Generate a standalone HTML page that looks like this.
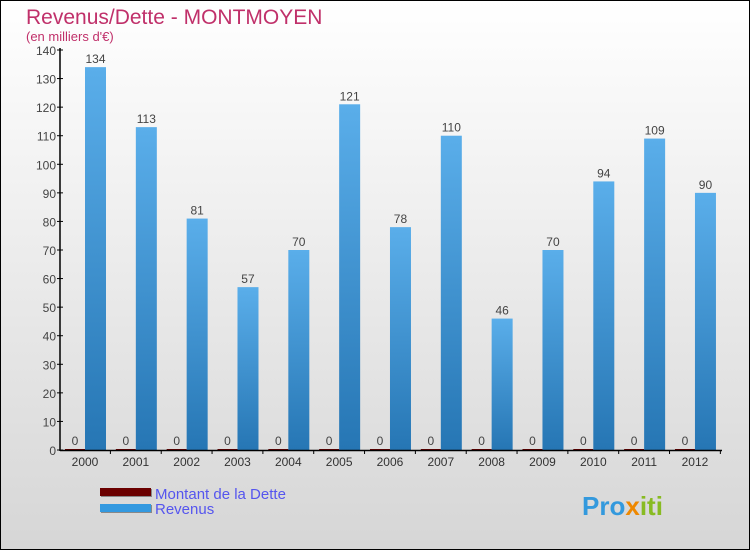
<!DOCTYPE html>
<html><head><meta charset="utf-8"><style>
body{margin:0}
#c{width:750px;height:550px;position:relative;background:linear-gradient(#ffffff,#d6d6d6);box-sizing:border-box;border:1px solid #000;font-family:"Liberation Sans",sans-serif;overflow:hidden}
</style></head><body>
<div id="c">
<svg id="s" width="750" height="550" style="position:absolute;left:-1px;top:-1px">
<defs>
<linearGradient id="gb" x1="0" y1="0" x2="0" y2="1"><stop offset="0" stop-color="#5aaeea"/><stop offset="1" stop-color="#2676b4"/></linearGradient>
</defs>
<text x="26" y="24" font-size="21" fill="#c0306a">Revenus/Dette - MONTMOYEN</text>
<text x="26" y="41" font-size="13" fill="#c0306a">(en milliers d'€)</text>
<g id="plot"></g>
<g>
<rect x="101" y="489" width="51" height="8" fill="#888"/><rect x="100" y="488" width="51" height="8" fill="#6b0000"/>
<text x="155" y="499" font-size="15" fill="#5555ee">Montant de la Dette</text>
<rect x="101" y="505" width="51" height="8" fill="#888"/><rect x="100" y="504" width="51" height="8" fill="#3399e0"/>
<text x="155" y="514" font-size="15" fill="#5555ee">Revenus</text>
</g>
<text x="582" y="515" font-size="26" font-weight="bold" fill="#3399dd">Pro<tspan fill="#ee8800">x</tspan><tspan fill="#88bb22">iti</tspan></text>
</svg>
</div>
<script>
const years=["2000","2001","2002","2003","2004","2005","2006","2007","2008","2009","2010","2011","2012"];
const revenus=[134,113,81,57,70,121,78,110,46,70,94,109,90];
const dette=[0,0,0,0,0,0,0,0,0,0,0,0,0];
const yTicks=[0,10,20,30,40,50,60,70,80,90,100,110,120,130,140];
const NS="http://www.w3.org/2000/svg";
const g=document.getElementById('plot');
const y=v=>450-v*400/140;
const xc=i=>85+i*50.83;
function el(t,a,txt){const e=document.createElementNS(NS,t);for(const k in a)e.setAttribute(k,a[k]);if(txt!==undefined)e.textContent=txt;g.appendChild(e);return e;}
years.forEach((yr,i)=>{
 const c=xc(i);
 const d=el('rect',{x:c-20,y:y(dette[i])-1,width:20,height:450-y(dette[i])+1,fill:'#6b0000'});
 
 
 const dl=el('text',{x:c-10,y:y(dette[i])-5,'font-size':12,fill:'#444','text-anchor':'middle'},String(dette[i]));
 
 
 const b=el('rect',{x:c,y:y(revenus[i]),width:21,height:450-y(revenus[i]),fill:'url(#gb)'});
 
 
 const bl=el('text',{x:c+10.5,y:y(revenus[i])-4,'font-size':12,fill:'#444','text-anchor':'middle'},String(revenus[i]));
 
 
 const xl=el('text',{x:c,y:466,'font-size':12,fill:'#333','text-anchor':'middle'},yr);
 
 
 el('line',{x1:c+25.4,y1:450,x2:c+25.4,y2:454,stroke:'#000'});
});
yTicks.forEach(t=>{
 el('line',{x1:57,y1:y(t),x2:63,y2:y(t),stroke:'#000'});
 const l=el('text',{x:56,y:y(t)+5,'font-size':12,fill:'#444','text-anchor':'end'},String(t));
 
 
});
const ya=el('line',{x1:60,y1:48,x2:60,y2:451,stroke:'#000','stroke-width':1.5});


const xa=el('line',{x1:60,y1:450.5,x2:722,y2:450.5,stroke:'#000','stroke-width':1.5});


</script>
</body></html>
